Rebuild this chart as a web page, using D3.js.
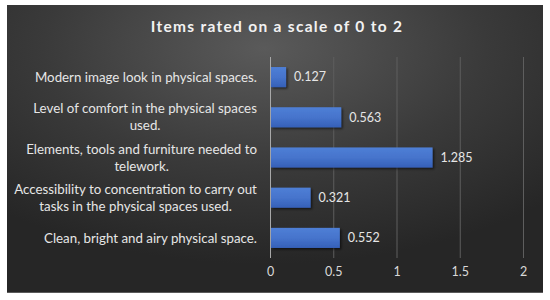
<!DOCTYPE html>
<html><head><meta charset="utf-8">
<script src="https://cdn.jsdelivr.net/npm/d3@7"></script>
<style>html,body{margin:0;padding:0;background:#fff;}</style>
</head><body>
<svg id="c" width="550" height="300"></svg>
<script>
const title = "Items rated on a scale of 0 to 2";
const categories = [
  ["Modern image look in physical spaces."],
  ["Level of comfort in the physical spaces", "used."],
  ["Elements, tools and furniture needed to", "telework."],
  ["Accessibility to concentration to carry out", "tasks in the physical spaces used."],
  ["Clean, bright and airy physical space."]
];
const values = [0.127, 0.563, 1.285, 0.321, 0.552];
const valueLabels = ["0.127", "0.563", "1.285", "0.321", "0.552"];
const ticks = [0, 0.5, 1, 1.5, 2];
const tickLabels = ["0", "0.5", "1", "1.5", "2"];

const svg = d3.select("#c");
const defs = svg.append("defs");
const rg = defs.append("radialGradient").attr("id","bg")
  .attr("cx","0.48").attr("cy","0.15").attr("r","0.75");
rg.append("stop").attr("offset","0").attr("stop-color","#5a5a5a");
rg.append("stop").attr("offset","0.55").attr("stop-color","#3a3a3a");
rg.append("stop").attr("offset","1").attr("stop-color","#262626");
const bg = defs.append("linearGradient").attr("id","bar").attr("x1",0).attr("y1",0).attr("x2",0).attr("y2",1);
bg.append("stop").attr("offset","0").attr("stop-color","#4f7fd6");
bg.append("stop").attr("offset","0.5").attr("stop-color","#4674cc");
bg.append("stop").attr("offset","1").attr("stop-color","#3560b8");
const f = defs.append("filter").attr("id","sh").attr("x","-10%").attr("y","-30%").attr("width","130%").attr("height","180%");
f.append("feDropShadow").attr("dx",1.5).attr("dy",1.5).attr("stdDeviation",1.2).attr("flood-color","#000").attr("flood-opacity",0.6);

svg.append("rect").attr("x",7).attr("y",5).attr("width",536).attr("height",288).attr("fill","url(#bg)");
svg.append("line").attr("x1",7).attr("x2",543).attr("y1",292.5).attr("y2",292.5).attr("stroke","#5a5a5a");

const font = "Lato, 'Open Sans', sans-serif";

svg.append("text").attr("x",277).attr("y",32).attr("text-anchor","middle")
  .attr("font-family",font).attr("font-weight","bold")
  .attr("font-size",15.5).attr("letter-spacing",1.3).attr("fill","#f2f2f2").text(title);

const x = d3.scaleLinear().domain([0,2]).range([270,523]);
const y = d3.scaleBand().domain(d3.range(values.length)).range([57,258]).paddingInner(0.5).paddingOuter(0.25);

const gAxis = svg.append("g").attr("transform","translate(0,258)")
  .call(d3.axisBottom(x).tickValues(ticks).tickFormat((d,i)=>tickLabels[i]).tickSize(201).tickSizeOuter(0));
gAxis.select(".domain").remove();
gAxis.selectAll(".tick line").attr("transform","translate(0,-201)").attr("y2",201)
  .attr("stroke",(d)=>d===0?"#a8a8a8":"#5e5e5e").attr("stroke-width",1);
gAxis.selectAll(".tick text").attr("y",14).attr("dy","0.32em")
  .attr("font-family",font).attr("font-size",12.5).attr("fill","#d9d9d9");

const bars = svg.append("g");
bars.selectAll("rect").data(values).join("rect")
  .attr("x",x(0)+1).attr("y",(d,i)=>y(i)).attr("height",y.bandwidth())
  .attr("width",d=>x(d)-x(0)-1).attr("fill","url(#bar)").attr("filter","url(#sh)");

svg.append("g").selectAll("text").data(values).join("text")
  .attr("x",d=>x(d)+8).attr("y",(d,i)=>y(i)+y.bandwidth()/2).attr("dy","0.35em")
  .attr("font-family",font).attr("font-size",12.5).attr("fill","#e6e6e6")
  .text((d,i)=>valueLabels[i]);

const lab = svg.append("g");
categories.forEach((lines,i)=>{
  const cy = y(i)+y.bandwidth()/2;
  const lh = 17;
  const t = lab.append("text").attr("text-anchor","middle")
    .attr("font-family",font).attr("font-size",13.3).attr("fill","#e6e6e6");
  lines.forEach((l,j)=>{
    t.append("tspan").attr("x",0).attr("y",cy + (j-(lines.length-1)/2)*lh).attr("dy","0.35em").text(l);
  });
  const w = t.node().getBBox().width;
  t.attr("transform",`translate(${257 - w/2},0)`);
});
</script>
</body></html>
